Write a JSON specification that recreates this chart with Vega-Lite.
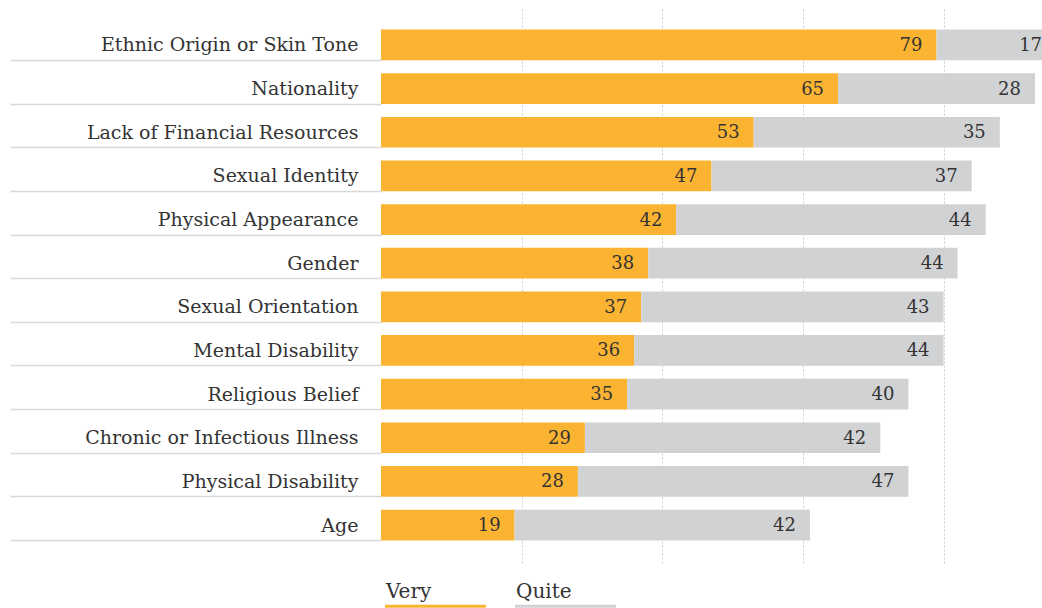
{
  "$schema": "https://vega.github.io/schema/vega-lite/v6.json",
  "width": 661,
  "height": 556,
  "autosize": {"type": "none"},
  "padding": {"left": 381, "top": 7, "right": 0, "bottom": 45},
  "background": "white",
  "config": {"view": {"stroke": null}, "font": "DejaVu Serif"},
  "data": {
    "values": [
      {"category": "Ethnic Origin or Skin Tone", "type": "Very", "order": 1, "value": 79},
      {"category": "Ethnic Origin or Skin Tone", "type": "Quite", "order": 2, "value": 17},
      {"category": "Nationality", "type": "Very", "order": 1, "value": 65},
      {"category": "Nationality", "type": "Quite", "order": 2, "value": 28},
      {"category": "Lack of Financial Resources", "type": "Very", "order": 1, "value": 53},
      {"category": "Lack of Financial Resources", "type": "Quite", "order": 2, "value": 35},
      {"category": "Sexual Identity", "type": "Very", "order": 1, "value": 47},
      {"category": "Sexual Identity", "type": "Quite", "order": 2, "value": 37},
      {"category": "Physical Appearance", "type": "Very", "order": 1, "value": 42},
      {"category": "Physical Appearance", "type": "Quite", "order": 2, "value": 44},
      {"category": "Gender", "type": "Very", "order": 1, "value": 38},
      {"category": "Gender", "type": "Quite", "order": 2, "value": 44},
      {"category": "Sexual Orientation ", "type": "Very", "order": 1, "value": 37},
      {"category": "Sexual Orientation ", "type": "Quite", "order": 2, "value": 43},
      {"category": "Mental Disability", "type": "Very", "order": 1, "value": 36},
      {"category": "Mental Disability", "type": "Quite", "order": 2, "value": 44},
      {"category": "Religious Belief", "type": "Very", "order": 1, "value": 35},
      {"category": "Religious Belief", "type": "Quite", "order": 2, "value": 40},
      {"category": "Chronic or Infectious Illness", "type": "Very", "order": 1, "value": 29},
      {"category": "Chronic or Infectious Illness", "type": "Quite", "order": 2, "value": 42},
      {"category": "Physical Disability", "type": "Very", "order": 1, "value": 28},
      {"category": "Physical Disability", "type": "Quite", "order": 2, "value": 47},
      {"category": "Age", "type": "Very", "order": 1, "value": 19},
      {"category": "Age", "type": "Quite", "order": 2, "value": 42}
    ]
  },
  "transform": [
    {"stack": "value", "groupby": ["category"], "sort": [{"field": "order", "order": "ascending"}], "as": ["v0", "v1"]}
  ],
  "encoding": {
    "y": {
      "field": "category",
      "type": "nominal",
      "sort": null,
      "scale": {"paddingInner": 0.2965, "paddingOuter": 0.518},
      "axis": {
        "title": null,
        "domain": false,
        "tickSize": 371,
        "tickColor": "#d9d9d9",
        "tickWidth": 1.5,
        "tickOffset": 15,
        "labelOffset": -9,
        "labelBaseline": "alphabetic",
        "labelPadding": -348,
        "labelFontSize": 19,
        "labelColor": "#333333",
        "labelLimit": 0,
        "labelFont": "DejaVu Serif"
      }
    }
  },
  "layer": [
    {
      "mark": {"type": "bar", "clip": true},
      "encoding": {
        "x": {
          "field": "v0",
          "type": "quantitative",
          "scale": {"domain": [0, 94], "nice": false, "zero": true},
          "axis": {"values": [20, 40, 60, 80], "grid": true, "gridDash": [2, 2], "gridColor": "#cccccc", "gridWidth": 1, "domain": false, "ticks": false, "labels": false, "title": null}
        },
        "x2": {"field": "v1"},
        "color": {
          "field": "type",
          "type": "nominal",
          "scale": {"domain": ["Very", "Quite"], "range": ["#FBB432", "#D1D2D4"]},
          "legend": {
            "orient": "none",
            "legendX": -1,
            "legendY": 575,
            "direction": "horizontal",
            "title": null,
            "symbolType": "M-1,2.5H19.2V3.1H-1Z",
            "symbolSize": 100,
            "symbolStrokeWidth": 0,
            "labelOffset": -14,
            "labelFontSize": 20,
            "labelColor": "#333333",
            "labelFont": "DejaVu Serif",
            "columnPadding": 24,
            "padding": 0
          }
        }
      }
    },
    {
      "mark": {"type": "text", "align": "right", "baseline": "middle", "dx": -14, "dy": 1, "fontSize": 18, "color": "#333333", "font": "DejaVu Serif"},
      "encoding": {
        "x": {"field": "v1", "type": "quantitative"},
        "text": {"field": "value", "type": "quantitative"}
      }
    }
  ]
}
